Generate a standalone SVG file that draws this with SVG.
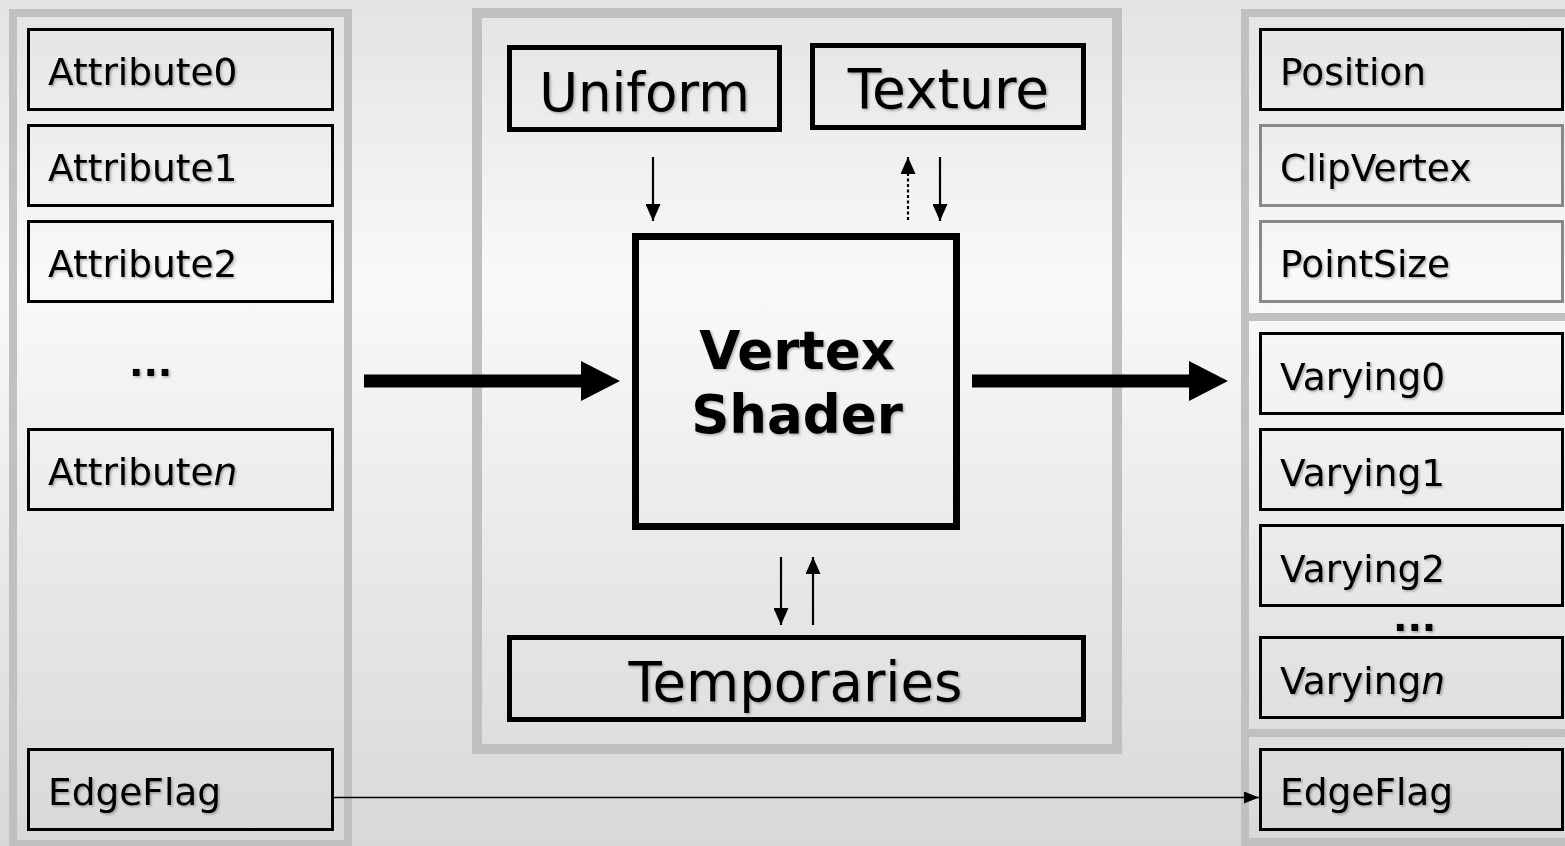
<svg xmlns="http://www.w3.org/2000/svg" width="1565" height="846" viewBox="0 0 1565 846">
<defs>
<linearGradient id="bg" x1="0" y1="0" x2="0" y2="1">
<stop offset="0" stop-color="#e3e3e3"/>
<stop offset="0.33" stop-color="#f9f9f9"/>
<stop offset="1" stop-color="#d8d8d8"/>
</linearGradient>
<filter id="sh" x="-10%" y="-20%" width="120%" height="140%">
<feDropShadow dx="1.5" dy="1.5" stdDeviation="0.8" flood-color="#000" flood-opacity="0.3"/>
</filter>
<marker id="ah" markerWidth="15" markerHeight="12" refX="15" refY="6" orient="auto" markerUnits="userSpaceOnUse">
<path d="M0,0 L15,6 L0,12 Z" fill="#000"/>
</marker>
<marker id="ahs" markerWidth="17" markerHeight="15" refX="17" refY="7.5" orient="auto" markerUnits="userSpaceOnUse">
<path d="M0,0 L17,7.5 L0,15 Z" fill="#000"/>
</marker>
</defs>
<style>
.panel{fill:none;stroke:#c0c0c0}
.box{fill:none;stroke:#000;stroke-width:3}
.gbox{fill:none;stroke:#888;stroke-width:3}
.big{fill:none;stroke:#000;stroke-width:5}
.t{font-family:"DejaVu Sans",Verdana,sans-serif;font-size:37.5px;fill:#000;filter:url(#sh)}
.tl{font-family:"DejaVu Sans",Verdana,sans-serif;font-size:53px;fill:#000;filter:url(#sh)}
.tb{font-family:"DejaVu Sans",Verdana,sans-serif;font-size:53px;font-weight:bold;fill:#000;filter:url(#sh)}
.dots{font-family:"DejaVu Sans",Verdana,sans-serif;font-size:38px;font-weight:bold;fill:#000;filter:url(#sh)}
.ln{stroke:#000;stroke-width:2.2;fill:none}
.fat{stroke:#000;stroke-width:13;fill:none}
</style>
<rect x="0" y="0" width="1565" height="846" fill="url(#bg)"/>

<g id="panels">
<rect class="panel" x="13" y="13" width="335" height="831" stroke-width="8"/>
<rect class="panel" x="477" y="13" width="640" height="736" stroke-width="10"/>
<rect class="panel" x="1245" y="13" width="340" height="304" stroke-width="8"/>
<rect class="panel" x="1245" y="317" width="340" height="416" stroke-width="8"/>
<rect class="panel" x="1245" y="733" width="340" height="109" stroke-width="8"/>
</g>

<g id="attribute0"><rect class="box" x="28.5" y="29.5" width="304" height="80"/><text class="t" x="48" y="85">Attribute0</text></g>
<g id="attribute1"><rect class="box" x="28.5" y="125.5" width="304" height="80"/><text class="t" x="48" y="181">Attribute1</text></g>
<g id="attribute2"><rect class="box" x="28.5" y="221.5" width="304" height="80"/><text class="t" x="48" y="277">Attribute2</text></g>
<g id="attr-dots"><text class="dots" x="129" y="376">...</text></g>
<g id="attributen"><rect class="box" x="28.5" y="429.5" width="304" height="80"/><text class="t" x="48" y="485">Attribute<tspan font-style="italic">n</tspan></text></g>
<g id="edgeflag-in"><rect class="box" x="28.5" y="749.5" width="304" height="80"/><text class="t" x="48" y="805">EdgeFlag</text></g>

<g id="uniform"><rect class="big" x="509.5" y="47.5" width="270" height="82"/><text class="tl" x="644.5" y="111" text-anchor="middle">Uniform</text></g>
<g id="texture"><rect class="big" x="812.5" y="45.5" width="271" height="82"/><text class="tl" x="948.5" y="108" text-anchor="middle" style="font-size:55px">Texture</text></g>
<g id="vertex-shader"><rect fill="none" stroke="#000" stroke-width="7" x="635.5" y="236.5" width="321" height="290"/><text class="tb" x="797" y="369" text-anchor="middle">Vertex</text><text class="tb" x="797" y="433" text-anchor="middle">Shader</text></g>
<g id="temporaries"><rect class="big" x="509.5" y="637.5" width="574" height="82"/><text class="tl" x="795.5" y="701" text-anchor="middle" style="font-size:54.5px">Temporaries</text></g>

<g id="position"><rect class="box" x="1260.5" y="29.5" width="302" height="80"/><text class="t" x="1280" y="85">Position</text></g>
<g id="clipvertex"><rect class="gbox" x="1260.5" y="125.5" width="302" height="80"/><text class="t" x="1280" y="181">ClipVertex</text></g>
<g id="pointsize"><rect class="gbox" x="1260.5" y="221.5" width="302" height="80"/><text class="t" x="1280" y="277">PointSize</text></g>
<g id="varying0"><rect class="box" x="1260.5" y="333.5" width="302" height="80"/><text class="t" x="1280" y="390">Varying0</text></g>
<g id="varying1"><rect class="box" x="1260.5" y="429.5" width="302" height="80"/><text class="t" x="1280" y="486">Varying1</text></g>
<g id="varying2"><rect class="box" x="1260.5" y="525.5" width="302" height="80"/><text class="t" x="1280" y="582">Varying2</text></g>
<g id="var-dots"><text class="dots" x="1393" y="631">...</text></g>
<g id="varyingn"><rect class="box" x="1260.5" y="637.5" width="302" height="80"/><text class="t" x="1280" y="694">Varying<tspan font-style="italic">n</tspan></text></g>
<g id="edgeflag-out"><rect class="box" x="1260.5" y="749.5" width="302" height="80"/><text class="t" x="1280" y="805">EdgeFlag</text></g>

<g id="connectors">
<line class="ln" x1="653" y1="157" x2="653" y2="221" marker-end="url(#ahs)"/>
<line class="ln" x1="908" y1="220" x2="908" y2="157" stroke-width="2.6" stroke-dasharray="3,2.5" marker-end="url(#ahs)"/>
<line class="ln" x1="940" y1="157" x2="940" y2="221" marker-end="url(#ahs)"/>
<line class="ln" x1="781" y1="557" x2="781" y2="625" marker-end="url(#ahs)"/>
<line class="ln" x1="813" y1="625" x2="813" y2="557" marker-end="url(#ahs)"/>
<line class="fat" x1="364" y1="381" x2="583" y2="381"/>
<path d="M581,361 L620,381 L581,401 Z" fill="#000"/>
<line class="fat" x1="972" y1="381" x2="1191" y2="381"/>
<path d="M1189,361 L1228,381 L1189,401 Z" fill="#000"/>
<line x1="334" y1="797.5" x2="1259" y2="797.5" stroke="#000" stroke-width="1.6" marker-end="url(#ah)"/>
</g>
</svg>
